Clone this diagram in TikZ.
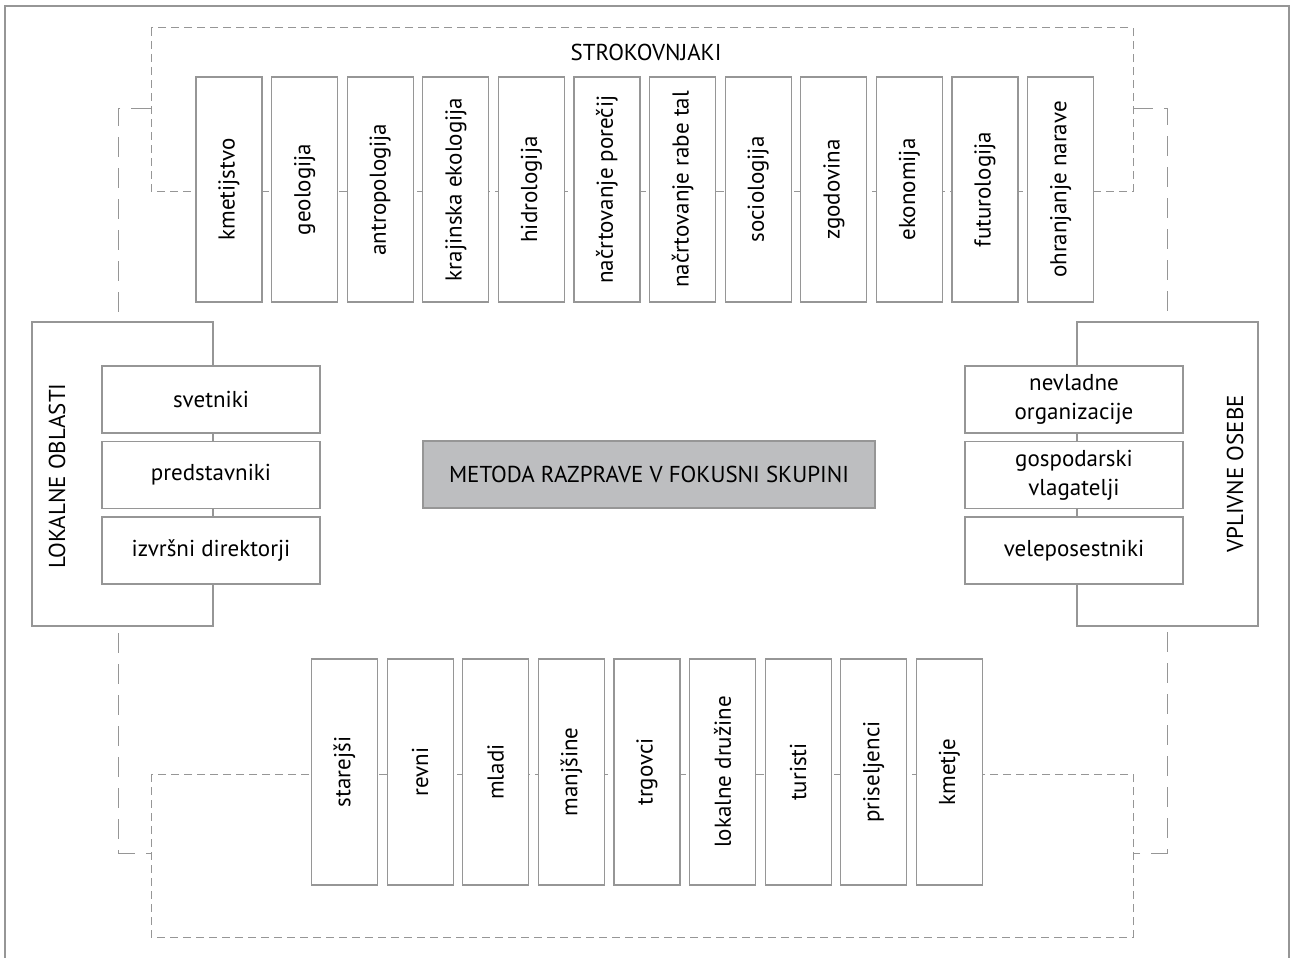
\documentclass[tikz,border=0pt]{standalone}
\usepackage{fontspec}
\setmainfont{PT Sans}
\definecolor{linegray}{RGB}{150,150,150}
\definecolor{boxgray}{RGB}{189,190,192}

\begin{document}
\begin{tikzpicture}[x=1pt, y=-1pt,
    font=\fontsize{23}{29}\selectfont,
    vbox/.style={draw=linegray, line width=1.2pt, fill=white, rotate=90,
        minimum width=225pt, minimum height=66pt, inner sep=0pt},
    hbox/.style={draw=linegray, line width=1.2pt, fill=white, align=center,
        minimum width=218pt, minimum height=67pt, inner sep=0pt},
    groupbox/.style={draw=linegray, line width=1.2pt, fill=white,
        minimum width=181pt, minimum height=304pt, inner sep=0pt},
    smalldash/.style={linegray, line width=1pt, dash pattern=on 8pt off 5pt},
    bigdash/.style={linegray, line width=1pt, dash pattern=on 20pt off 11pt}] %1
    \useasboundingbox (0,0) rectangle (1290,958);
    \draw[linegray, line width=1.5pt] (5,958) -- (5,6) -- (1289,6) -- (1289,958);

    \draw[bigdash] (151,108) -- (118,108) -- (118,853) -- (151,853);
    \draw[bigdash] (1133,108) -- (1167,108) -- (1167,853) -- (1133,853);
    \draw[smalldash] (151,28) rectangle (1133,191);
    \draw[smalldash] (151,774) rectangle (1133,937);

    \node (strokovnjaki) at (646,52) {STROKOVNJAKI};
    \node[vbox] (kmetijstvo) at (229,189.5) {kmetijstvo};
    \node[vbox] (geologija) at (304.6,189.5) {geologija};
    \node[vbox] (antropologija) at (380.2,189.5) {antropologija};
    \node[vbox] (ekologija) at (455.8,189.5) {krajinska ekologija};
    \node[vbox] (hidrologija) at (531.4,189.5) {hidrologija};
    \node[vbox] (porecij) at (607,189.5) {načrtovanje porečij};
    \node[vbox] (rabetal) at (682.6,189.5) {načrtovanje rabe tal};
    \node[vbox] (sociologija) at (758.2,189.5) {sociologija};
    \node[vbox] (zgodovina) at (833.8,189.5) {zgodovina};
    \node[vbox] (ekonomija) at (909.4,189.5) {ekonomija};
    \node[vbox] (futurologija) at (985,189.5) {futurologija};
    \node[vbox] (narava) at (1060.6,189.5) {ohranjanje narave};

    \node[groupbox] (lokalne) at (122.5,474) {};
    \node[rotate=90] (lokalnetxt) at (57,476) {LOKALNE OBLASTI};
    \node[hbox] (svetniki) at (211,399.5) {svetniki};
    \node[hbox] (predstavniki) at (211,475) {predstavniki};
    \node[hbox] (direktorji) at (211,550.5) {izvršni direktorji};

    \node[groupbox] (vplivne) at (1167.5,474) {};
    \node[rotate=90] (vplivnetxt) at (1235,474) {VPLIVNE OSEBE};
    \node[hbox] (nevladne) at (1074,399.5) {nevladne\\organizacije};
    \node[hbox] (vlagatelji) at (1074,475) {gospodarski\\vlagatelji};
    \node[hbox] (veleposestniki) at (1074,550.5) {veleposestniki};

    \node[draw=linegray, line width=1.2pt, fill=boxgray, minimum width=452pt,
        minimum height=67pt] (metoda) at (649,474.5) {METODA RAZPRAVE V FOKUSNI SKUPINI};

    \node[vbox, minimum width=226pt] (starejsi) at (344.5,772) {starejši};
    \node[vbox, minimum width=226pt] (revni) at (420.1,772) {revni};
    \node[vbox, minimum width=226pt] (mladi) at (495.7,772) {mladi};
    \node[vbox, minimum width=226pt] (manjsine) at (571.3,772) {manjšine};
    \node[vbox, minimum width=226pt] (trgovci) at (646.9,772) {trgovci};
    \node[vbox, minimum width=226pt] (druzine) at (722.5,772) {lokalne družine};
    \node[vbox, minimum width=226pt] (turisti) at (798.1,772) {turisti};
    \node[vbox, minimum width=226pt] (priseljenci) at (873.7,772) {priseljenci};
    \node[vbox, minimum width=226pt] (kmetje) at (949.3,772) {kmetje};
\end{tikzpicture}
\end{document}
